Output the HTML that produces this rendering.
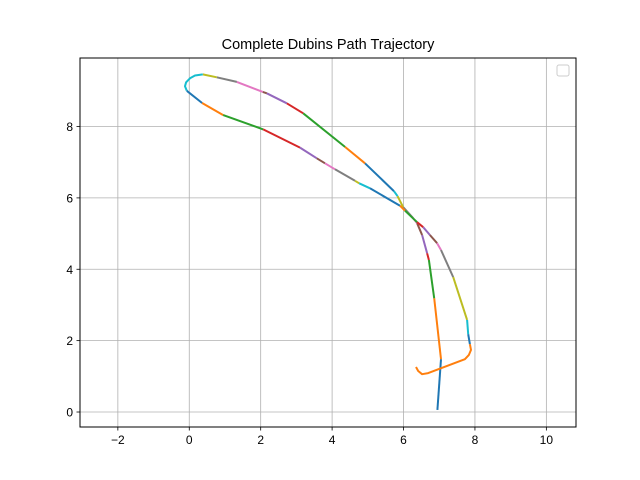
<!DOCTYPE html>
<html><head><meta charset="utf-8"><style>
body{margin:0;background:#fff;}
svg{display:block;font-family:"Liberation Sans","DejaVu Sans",sans-serif;}
</style></head><body>
<svg id="chart" width="640" height="480" viewBox="0 0 640 480">
<rect width="640" height="480" fill="#fff"/>
<text x="328" y="49" font-size="14.5" text-anchor="middle" fill="#000">Complete Dubins Path Trajectory</text>
<g id="grid"></g>
<g id="paths"></g>
<rect x="80" y="58" width="496" height="369" fill="none" stroke="#000" stroke-width="1"/>
<g id="ticks"></g>
<rect x="557" y="65" width="12" height="11" rx="2" fill="#fff" stroke="#ccc" stroke-width="1"/>
</svg>
<script>
const pathX=[6.95,7.05,6.86,6.71,6.66,6.52,6.38,6.27,5.99,5.83,5.73,4.92,4.36,3.19,2.73,2.17,2.06,1.33,0.77,0.38,0.16,0.02,-0.09,-0.12,-0.07,0.36,0.95,2.07,3.10,3.57,3.80,4.08,4.64,4.76,5.06,5.90,6.04,6.38,6.55,6.74,6.94,7.05,7.39,7.78,7.81,7.86,7.89,7.83,7.72,6.69,6.52,6.41,6.35];
const pathY=[0.06,1.48,3.19,4.26,4.45,4.96,5.29,5.43,5.74,6.05,6.19,6.97,7.43,8.37,8.65,8.93,8.97,9.25,9.38,9.46,9.43,9.35,9.24,9.13,9.0,8.66,8.32,7.92,7.41,7.11,6.97,6.80,6.48,6.41,6.27,5.78,5.64,5.32,5.18,4.96,4.73,4.54,3.78,2.58,2.18,1.90,1.74,1.60,1.48,1.09,1.06,1.15,1.26];
const segStart=[0,1,2,3,4,5,6,7,8,9,10,11,12,13,14,15,16,17,18,19,24,25,26,27,28,29,30,31,32,33,34,35,36,37,38,39,40,41,42,43,44,45];
const xTicks=[-2,0,2,4,6,8,10];
const yTicks=[0,2,4,6,8];
const palette=["#1f77b4","#ff7f0e","#2ca02c","#d62728","#9467bd","#8c564b","#e377c2","#7f7f7f","#bcbd22","#17becf"];
const X0=80,X1=576,Y0=427,Y1=58,xmin=-3.06,xmax=10.83,ymin=-0.42,ymax=9.92;
function sx(v){return X0+(v-xmin)/(xmax-xmin)*(X1-X0);}
function sy(v){return Y0-(v-ymin)/(ymax-ymin)*(Y0-Y1);}
const NS="http://www.w3.org/2000/svg";
const grid=document.getElementById('grid'),ticks=document.getElementById('ticks'),paths=document.getElementById('paths');
function mk(t,a,p){const e=document.createElementNS(NS,t);for(const k in a)e.setAttribute(k,a[k]);p.appendChild(e);return e;}
xTicks.forEach(t=>{const x=sx(t);
 const g=mk('line',{x1:x,x2:x,y1:Y1,y2:Y0,stroke:'#b0b0b0','stroke-width':0.8},grid);
 
 
 const m=mk('line',{x1:x,x2:x,y1:Y0,y2:Y0+3.5,stroke:'#000','stroke-width':0.8},ticks);
 
 
 const l=mk('text',{x:x,y:Y0+17,'font-size':12,'text-anchor':'middle',fill:'#000'},ticks);
 l.textContent=(t<0?'\u2212'+(-t):String(t));
 
 
});
yTicks.forEach(t=>{const y=sy(t);
 const g=mk('line',{x1:X0,x2:X1,y1:y,y2:y,stroke:'#b0b0b0','stroke-width':0.8},grid);
 
 
 const m=mk('line',{x1:X0-3.5,x2:X0,y1:y,y2:y,stroke:'#000','stroke-width':0.8},ticks);
 
 
 const l=mk('text',{x:X0-7,y:y+4.5,'font-size':12,'text-anchor':'end',fill:'#000'},ticks);
 l.textContent=String(t);
 
 
});
for(let k=0;k<segStart.length;k++){
 const a=segStart[k],b=(k+1<segStart.length)?segStart[k+1]:pathX.length-1;
 const pts=[];for(let i=a;i<=b;i++)pts.push(sx(pathX[i]).toFixed(1)+','+sy(pathY[i]).toFixed(1));
 const p=mk('polyline',{points:pts.join(' '),fill:'none',stroke:palette[k%10],'stroke-width':2,'stroke-linecap':'butt','stroke-linejoin':'round'},paths);
 
 
}
</script>
</body></html>
